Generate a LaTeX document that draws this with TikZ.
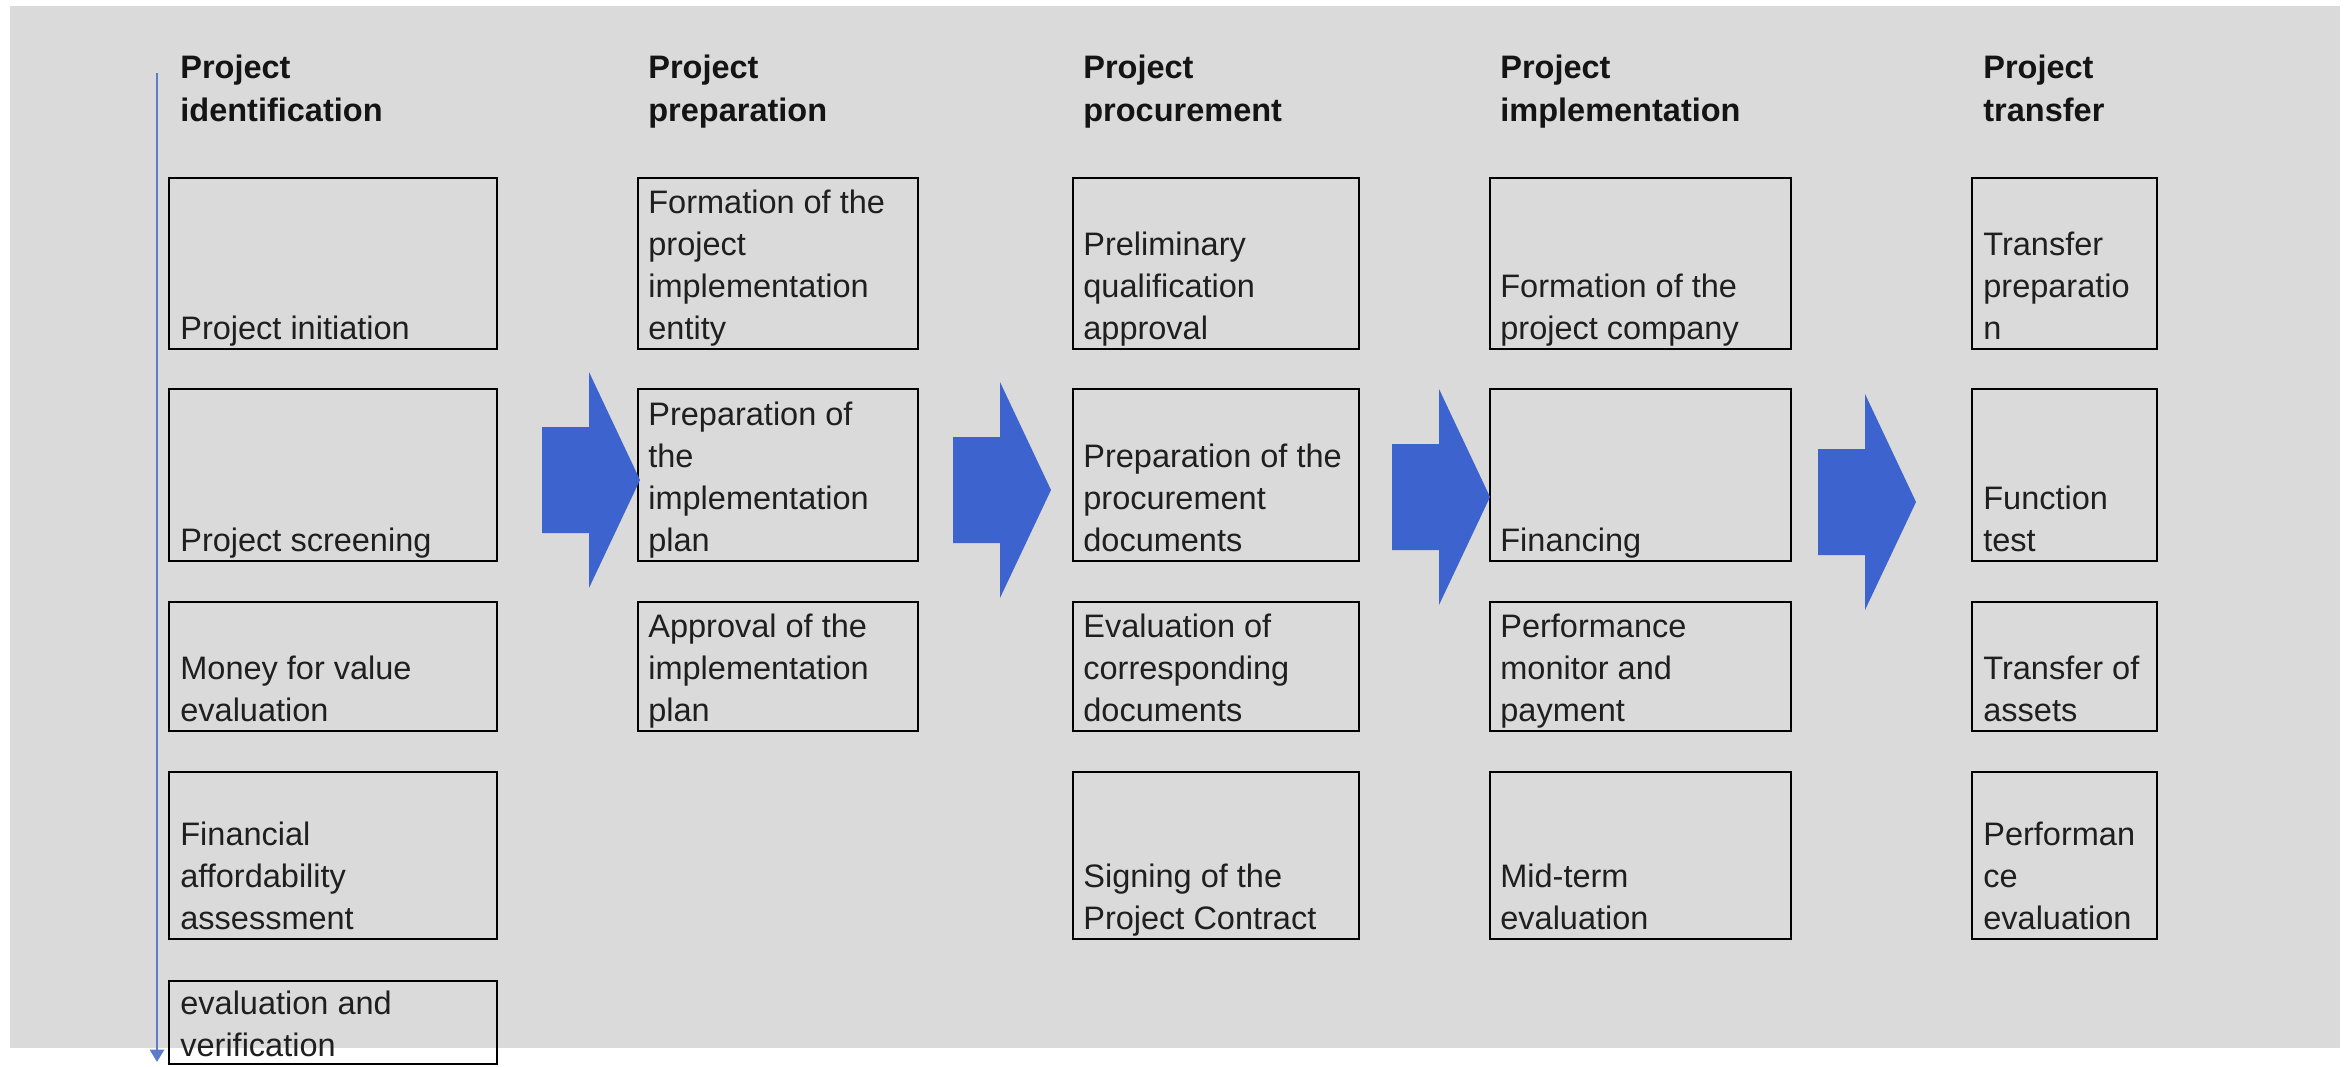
\documentclass[tikz,border=0pt]{standalone}
\usepackage{fontspec}
\setmainfont{Liberation Sans}
\usetikzlibrary{arrows.meta}
\definecolor{panelgray}{RGB}{218,218,218}
\definecolor{arrowblue}{RGB}{61,99,206}
\definecolor{lineblue}{RGB}{92,124,200}
\tikzset{
    stepbox/.style={draw=black, line width=1.3pt, inner sep=0pt, anchor=north west},
    steptext/.style={anchor=south west, inner sep=0pt, align=left, text=black!88,
        font=\fontsize{18.5}{24}\selectfont, execute at end node=\strut},
    phasetitle/.style={anchor=north west, inner sep=0pt, align=left, text=black!92,
        font=\fontsize{18.5}{24}\selectfont\bfseries, execute at begin node=\strut},
    colA/.style={minimum width=6.56cm}, % widths of the five columns
    colB/.style={minimum width=5.6cm},
    colC/.style={minimum width=5.72cm},
    colD/.style={minimum width=6.02cm},
    colE/.style={minimum width=3.7cm},
    blockarrow/.pic={
        \fill[arrowblue] (-98,-53) -- (-51,-53) -- (-51,-108) -- (0,0)
            -- (-51,108) -- (-51,53) -- (-98,53) -- cycle;
    },
}

\begin{document}
\begin{tikzpicture}[x=0.02cm, y=-0.02cm]
        \useasboundingbox (0,0) rectangle (2351,1067);
        \fill[panelgray] (10,6) rectangle (2340,1048);

        \node[phasetitle] (ident) at (180,55) {Project\\identification};
        \node[phasetitle] (prep) at (648,55) {Project\\preparation};
        \node[phasetitle] (procure) at (1083,55) {Project\\procurement};
        \node[phasetitle] (implement) at (1500,55) {Project\\implementation};
        \node[phasetitle] (transfer) at (1983,55) {Project\\transfer};

        \coordinate (flowtop) at (157,73);
        \coordinate (flowend) at (157,1062);
        \draw[lineblue, line width=1.4pt, -{Triangle[width=8pt, length=7pt]}]
            (flowtop) -- (flowend);

        \node[stepbox, colA, minimum height=3.42cm] (a1) at (168,177) {};
        \node[stepbox, colA, minimum height=3.44cm] (a2) at (168,388) {};
        \node[stepbox, colA, minimum height=2.58cm] (a3) at (168,601) {};
        \node[stepbox, colA, minimum height=3.34cm] (a4) at (168,771) {};
        \node[stepbox, colA, minimum height=1.66cm] (a5) at (168,980) {};
        \node[steptext] (a1t) at ([shift={(12,2.6)}]a1.south west) {Project initiation};
        \node[steptext] (a2t) at ([shift={(12,2.6)}]a2.south west) {Project screening};
        \node[steptext] (a3t) at ([shift={(12,2.6)}]a3.south west) {Money for value\\evaluation};
        \node[steptext] (a4t) at ([shift={(12,2.6)}]a4.south west) {Financial\\affordability\\assessment};
        \node[steptext] (a5t) at ([shift={(12,4.6)}]a5.south west) {evaluation and\\verification};

        \node[stepbox, colB, minimum height=3.42cm] (b1) at (637,177) {};
        \node[stepbox, colB, minimum height=3.44cm] (b2) at (637,388) {};
        \node[stepbox, colB, minimum height=2.58cm] (b3) at (637,601) {};
        \node[steptext] (b1t) at ([shift={(11,2.6)}]b1.south west) {Formation of the\\project\\implementation\\entity};
        \node[steptext] (b2t) at ([shift={(11,2.6)}]b2.south west) {Preparation of\\the\\implementation\\plan};
        \node[steptext] (b3t) at ([shift={(11,2.6)}]b3.south west) {Approval of the\\implementation\\plan};

        \node[stepbox, colC, minimum height=3.42cm] (c1) at (1072,177) {};
        \node[stepbox, colC, minimum height=3.44cm] (c2) at (1072,388) {};
        \node[stepbox, colC, minimum height=2.58cm] (c3) at (1072,601) {};
        \node[stepbox, colC, minimum height=3.34cm] (c4) at (1072,771) {};
        \node[steptext] (c1t) at ([shift={(11,2.6)}]c1.south west) {Preliminary\\qualification\\approval};
        \node[steptext] (c2t) at ([shift={(11,2.6)}]c2.south west) {Preparation of the\\procurement\\documents};
        \node[steptext] (c3t) at ([shift={(11,2.6)}]c3.south west) {Evaluation of\\corresponding\\documents};
        \node[steptext] (c4t) at ([shift={(11,2.6)}]c4.south west) {Signing of the\\Project Contract};

        \node[stepbox, colD, minimum height=3.42cm] (d1) at (1489,177) {};
        \node[stepbox, colD, minimum height=3.44cm] (d2) at (1489,388) {};
        \node[stepbox, colD, minimum height=2.58cm] (d3) at (1489,601) {};
        \node[stepbox, colD, minimum height=3.34cm] (d4) at (1489,771) {};
        \node[steptext] (d1t) at ([shift={(11,2.6)}]d1.south west) {Formation of the\\project company};
        \node[steptext] (d2t) at ([shift={(11,2.6)}]d2.south west) {Financing};
        \node[steptext] (d3t) at ([shift={(11,2.6)}]d3.south west) {Performance\\monitor and\\payment};
        \node[steptext] (d4t) at ([shift={(11,2.6)}]d4.south west) {Mid-term\\evaluation};

        \node[stepbox, colE, minimum height=3.42cm] (e1) at (1971,177) {};
        \node[stepbox, colE, minimum height=3.44cm] (e2) at (1971,388) {};
        \node[stepbox, colE, minimum height=2.58cm] (e3) at (1971,601) {};
        \node[stepbox, colE, minimum height=3.34cm] (e4) at (1971,771) {};
        \node[steptext] (e1t) at ([shift={(12,2.6)}]e1.south west) {Transfer\\preparatio\\n};
        \node[steptext] (e2t) at ([shift={(12,2.6)}]e2.south west) {Function\\test};
        \node[steptext] (e3t) at ([shift={(12,2.6)}]e3.south west) {Transfer of\\assets};
        \node[steptext] (e4t) at ([shift={(12,2.6)}]e4.south west) {Performan\\ce\\evaluation};

        \pic at (640,480) {blockarrow};
        \pic at (1051,490) {blockarrow};
        \pic at (1490,497) {blockarrow};
        \pic at (1916,502) {blockarrow};
    \end{tikzpicture}
\end{document}
